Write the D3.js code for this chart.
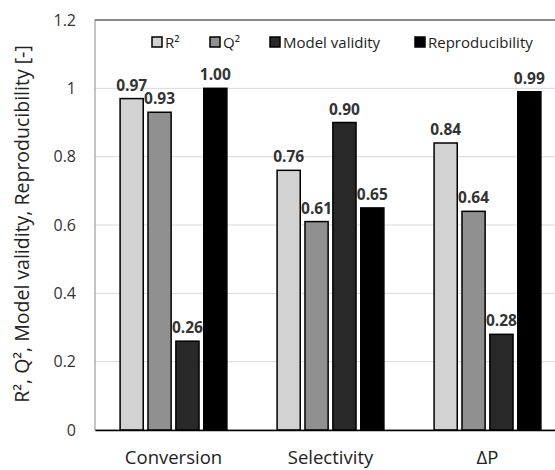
<!DOCTYPE html>
<html><head><meta charset="utf-8">
<script src="https://cdn.jsdelivr.net/npm/d3@7"></script>
<style>body{margin:0;background:#fff}svg{display:block}</style>
</head><body><svg id="c" width="555" height="470"></svg>
<script>
const categories = ["Conversion", "Selectivity", "ΔP"];
const seriesNames = ["R²", "Q²", "Model validity", "Reproducibility"];
const r2 = [0.97, 0.76, 0.84];
const q2 = [0.93, 0.61, 0.64];
const modelValidity = [0.26, 0.90, 0.28];
const reproducibility = [1.00, 0.65, 0.99];
const yTicks = [0, 0.2, 0.4, 0.6, 0.8, 1, 1.2];
const yTickLabels = ["0", "0.2", "0.4", "0.6", "0.8", "1", "1.2"];
const colors = ["#d2d2d2", "#909090", "#282828", "#000000"];

const series = [r2, q2, modelValidity, reproducibility];
const svg = d3.select("#c");
const font = "'Open Sans', sans-serif";
const L = 95, T = 20, B = 430, R = 566;

const x = d3.scaleBand().domain(categories).range([L, R]).paddingInner(0).paddingOuter(0);
const xs = d3.scaleBand().domain(d3.range(4)).range([0, x.bandwidth()]).paddingInner(0.17).paddingOuter(0.9);
const y = d3.scaleLinear().domain([0, 1.2]).range([B, T]);

// grid
svg.append("g").selectAll("line").data(yTicks.slice(1, -1)).join("line")
  .attr("x1", L).attr("x2", R).attr("y1", d => y(d)).attr("y2", d => y(d))
  .attr("stroke", "#d9d9d9").attr("stroke-width", 1);
// plot border
svg.append("rect").attr("x", L).attr("y", T).attr("width", R - L).attr("height", B - T)
  .attr("fill", "none").attr("stroke", "#8a8a8a").attr("stroke-width", 1);
svg.append("line").attr("x1", L).attr("x2", R).attr("y1", T).attr("y2", T)
  .attr("stroke", "#555").attr("stroke-width", 1.2);

// y axis
const yAxis = d3.axisLeft(y).tickValues(yTicks).tickFormat((d, i) => yTickLabels[i]).tickSize(0).tickPadding(19);
const gy = svg.append("g").attr("transform", `translate(${L},0)`).call(yAxis);
gy.select(".domain").remove();
gy.selectAll("text").attr("font-family", font).attr("font-size", 16).attr("fill", "#333");

// bars
const groups = svg.append("g").selectAll("g").data(categories).join("g")
  .attr("transform", d => `translate(${x(d)},0)`);
groups.each(function(cat, ci) {
  const g = d3.select(this);
  series.forEach((s, si) => {
    const v = s[ci];
    g.append("rect").attr("x", xs(si)).attr("width", xs.bandwidth())
      .attr("y", y(v)).attr("height", y(0) - y(v))
      .attr("fill", colors[si]).attr("stroke", "#000").attr("stroke-width", 1.5);
    g.append("text").attr("x", xs(si) + xs.bandwidth() / 2).attr("y", y(v) - 8)
      .attr("text-anchor", "middle").attr("font-family", font).attr("font-weight", "bold")
      .attr("font-size", 15.5).attr("fill", "#333").text(v.toFixed(2));
  });
});

// x axis
const xAxis = d3.axisBottom(x).tickSize(0).tickPadding(21);
const gx = svg.append("g").attr("transform", `translate(0,${B})`).call(xAxis);
gx.select(".domain").attr("stroke", "#000").attr("stroke-width", 1.5);
gx.selectAll("text").attr("font-family", font).attr("font-size", 18.5).attr("fill", "#222");

// y label
svg.append("text").attr("transform", `translate(29,${(T + B) / 2 - 1}) rotate(-90)`)
  .attr("text-anchor", "middle").attr("font-family", font).attr("font-size", 19.5).attr("fill", "#222")
  .text("R², Q², Model validity, Reproducibility [-]");

// legend
const legendX = [152, 210, 270, 415];
const lg = svg.append("g").selectAll("g").data(seriesNames).join("g")
  .attr("transform", (d, i) => `translate(${legendX[i]},42)`);
lg.append("rect").attr("x", 0).attr("y", -5).attr("width", 10).attr("height", 10)
  .attr("fill", (d, i) => colors[i]).attr("stroke", "#000").attr("stroke-width", 1.5);
lg.append("text").attr("x", 13).attr("y", 5.5).attr("font-family", font).attr("font-size", 15)
  .attr("fill", "#222").text(d => d);
</script></body></html>
